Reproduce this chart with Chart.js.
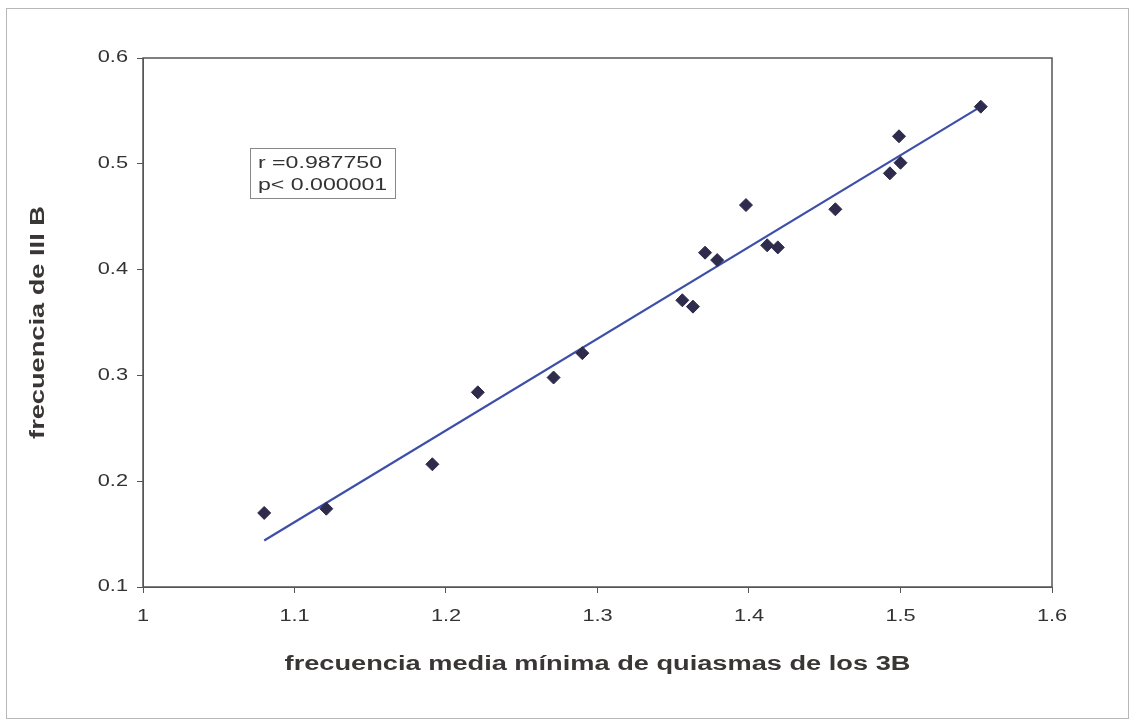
<!DOCTYPE html>
<html>
<head>
<meta charset="utf-8">
<script src="https://cdn.jsdelivr.net/npm/chart.js@4/dist/chart.umd.min.js"></script>
<style>
  html, body { margin: 0; padding: 0; background: #fff; }
  #wrap { width: 1132px; height: 723px; }
</style>
</head>
<body>
<div id="wrap"><canvas id="chart" width="1132" height="723"></canvas></div>
<script>
/* ---- data ---- */
const xVals = [1.080, 1.121, 1.191, 1.221, 1.271, 1.290, 1.356, 1.363, 1.371, 1.379,
               1.398, 1.412, 1.419, 1.457, 1.493, 1.499, 1.500, 1.553];
const yVals = [0.170, 0.174, 0.216, 0.284, 0.298, 0.321, 0.371, 0.365, 0.416, 0.409,
               0.461, 0.423, 0.421, 0.457, 0.491, 0.526, 0.501, 0.554];
const trendX = [1.08, 1.553];
const trendY = [0.144, 0.554];
const xTicks = [1, 1.1, 1.2, 1.3, 1.4, 1.5, 1.6];
const yTicks = [0.1, 0.2, 0.3, 0.4, 0.5, 0.6];
const statLines = ["r =0.987750", "p< 0.000001"];
const xTitle = "frecuencia media mínima de quiasmas de los 3B";
const yTitle = "frecuencia de III B";

const points = xVals.map((x, i) => ({ x: x, y: yVals[i] }));
const trend = trendX.map((x, i) => ({ x: x, y: trendY[i] }));

// the original text is set in a wide face: stretch along the baseline
const WIDE = 1.36;
const FONT = "'Liberation Sans', Arial, sans-serif";

function wideText(c, text, x, y, align, rot) {
  c.save();
  c.translate(x, y);
  if (rot) c.rotate(rot);
  c.scale(WIDE, 1);
  c.textAlign = align;
  c.textBaseline = "middle";
  c.fillText(text, 0, 0);
  c.restore();
}

/* frame, labels, stats box */
const extras = {
  id: "extras",
  beforeDraw(chart) {
    const c = chart.ctx;
    c.save();
    c.fillStyle = "#fff";
    c.fillRect(0, 0, chart.width, chart.height);
    c.strokeStyle = "#b8b8b8";
    c.lineWidth = 1;
    c.strokeRect(6.5, 8.5, 1122, 710);
    c.restore();
  },
  afterDraw(chart) {
    const c = chart.ctx;
    const a = chart.chartArea;
    const xs = chart.scales.x, ys = chart.scales.y;
    c.save();
    c.strokeStyle = "#555";
    c.lineWidth = 1.5;
    c.strokeRect(a.left, a.top, a.right - a.left, a.bottom - a.top);

    // tick labels
    c.fillStyle = "#333";
    c.font = "16px " + FONT;
    xTicks.forEach(v => wideText(c, String(v), xs.getPixelForValue(v), a.bottom + 30, "center"));
    yTicks.forEach(v => wideText(c, String(v), a.left - 15, ys.getPixelForValue(v), "right"));

    // axis titles
    c.fillStyle = "#3a3636";
    c.font = "bold 20px " + FONT;
    wideText(c, xTitle, (a.left + a.right) / 2, 664, "center");
    wideText(c, yTitle, 38, (a.top + a.bottom) / 2, "center", -Math.PI / 2);

    // stats box
    c.fillStyle = "#fff";
    c.fillRect(250, 148, 145, 50);
    c.strokeStyle = "#888";
    c.lineWidth = 1;
    c.strokeRect(250.5, 148.5, 145, 50);
    c.fillStyle = "#333";
    c.font = "17px " + FONT;
    wideText(c, statLines[0], 258, 163, "left");
    wideText(c, statLines[1], 258, 185, "left");
    c.restore();
  }
};

new Chart(document.getElementById("chart"), {
  type: "scatter",
  data: {
    datasets: [
      {
        type: "line",
        data: trend,
        borderColor: "#3d4fa8",
        borderWidth: 2.2,
        pointRadius: 0,
        fill: false,
        order: 2
      },
      {
        data: points,
        pointStyle: "rectRot",
        pointRadius: 6.5,
        backgroundColor: "#2e2b4c",
        borderColor: "#2e2b4c",
        borderWidth: 1,
        order: 1
      }
    ]
  },
  options: {
    responsive: false,
    animation: false,
    layout: { padding: { left: 20, top: 58, right: 80, bottom: 40 } },
    plugins: { legend: { display: false }, tooltip: { enabled: false } },
    scales: {
      x: {
        type: "linear",
        min: 1, max: 1.6,
        afterBuildTicks: s => { s.ticks = xTicks.map(v => ({ value: v })); },
        afterFit: s => { s.height = 96; },
        grid: { drawOnChartArea: false, tickLength: 6, color: "#555" },
        border: { color: "#555" },
        ticks: { display: false }
      },
      y: {
        min: 0.1, max: 0.6,
        afterBuildTicks: s => { s.ticks = yTicks.map(v => ({ value: v })); },
        afterFit: s => { s.width = 123; },
        grid: { drawOnChartArea: false, tickLength: 6, color: "#555" },
        border: { color: "#555" },
        ticks: { display: false }
      }
    }
  },
  plugins: [extras]
});
</script>
</body>
</html>
